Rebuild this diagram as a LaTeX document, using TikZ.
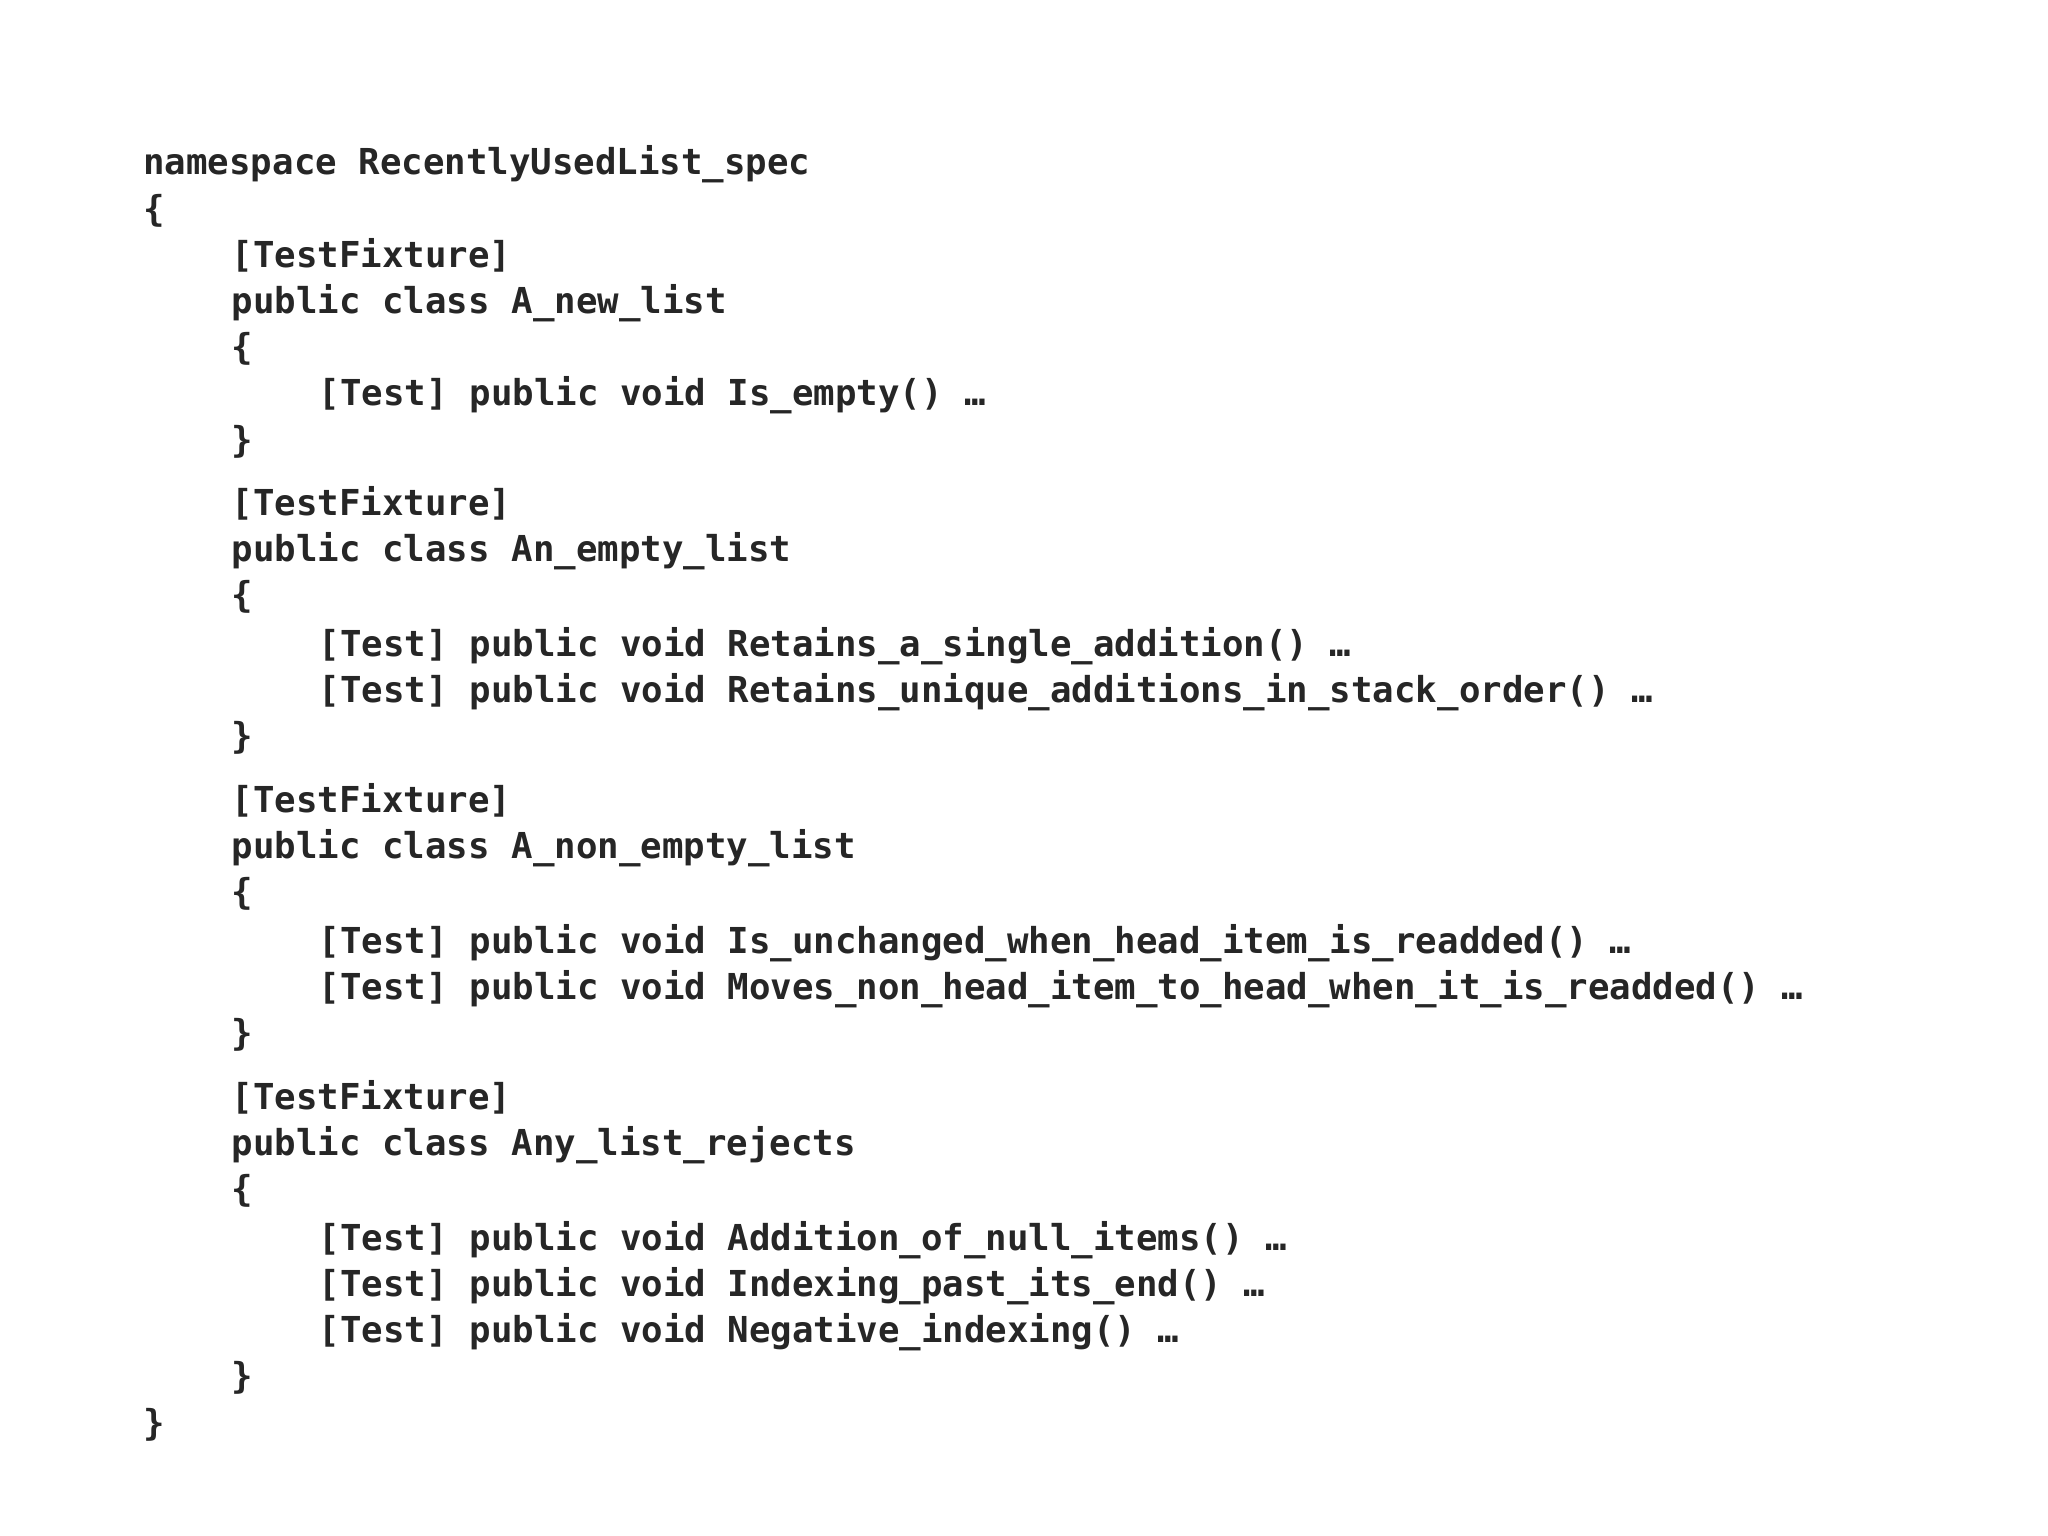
\documentclass[tikz,border=0pt]{standalone}
\usepackage{fontspec}
\setmonofont{DejaVu Sans Mono}
\begin{document}
\begin{tikzpicture}[x=0.01cm,y=-0.01cm,
  code/.style={anchor=mid west,inner sep=0pt,font=\ttfamily\bfseries\fontsize{7.7}{9}\selectfont,text=black!85}]
\useasboundingbox[fill=white] (0,0) rectangle (1552,1164);
\def\a{108}\def\b{175}\def\c{241}
\node[code] (l1) at (\a,125) {namespace RecentlyUsedList\_spec};
\node[code] (l2) at (\a,160) {\{};
\node[code] (l3) at (\b,195) {[TestFixture]};
\node[code] (l4) at (\b,230) {public class A\_new\_list};
\node[code] (l5) at (\b,265) {\{};
\node[code] (l6) at (\c,300) {[Test] public void Is\_empty() …};
\node[code] (l7) at (\b,335) {\}};
\node[code] (l8) at (\b,383) {[TestFixture]};
\node[code] (l9) at (\b,418) {public class An\_empty\_list};
\node[code] (l10) at (\b,453) {\{};
\node[code] (l11) at (\c,490) {[Test] public void Retains\_a\_single\_addition() …};
\node[code] (l12) at (\c,525) {[Test] public void Retains\_unique\_additions\_in\_stack\_order() …};
\node[code] (l13) at (\b,560) {\}};
\node[code] (l14) at (\b,608) {[TestFixture]};
\node[code] (l15) at (\b,643) {public class A\_non\_empty\_list};
\node[code] (l16) at (\b,678) {\{};
\node[code] (l17) at (\c,715) {[Test] public void Is\_unchanged\_when\_head\_item\_is\_readded() …};
\node[code] (l18) at (\c,750) {[Test] public void Moves\_non\_head\_item\_to\_head\_when\_it\_is\_readded() …};
\node[code] (l19) at (\b,785) {\}};
\node[code] (l20) at (\b,833) {[TestFixture]};
\node[code] (l21) at (\b,868) {public class Any\_list\_rejects};
\node[code] (l22) at (\b,903) {\{};
\node[code] (l23) at (\c,940) {[Test] public void Addition\_of\_null\_items() …};
\node[code] (l24) at (\c,975) {[Test] public void Indexing\_past\_its\_end() …};
\node[code] (l25) at (\c,1010) {[Test] public void Negative\_indexing() …};
\node[code] (l26) at (\b,1045) {\}};
\node[code] (l27) at (\a,1080) {\}};
\end{tikzpicture}
\end{document}
